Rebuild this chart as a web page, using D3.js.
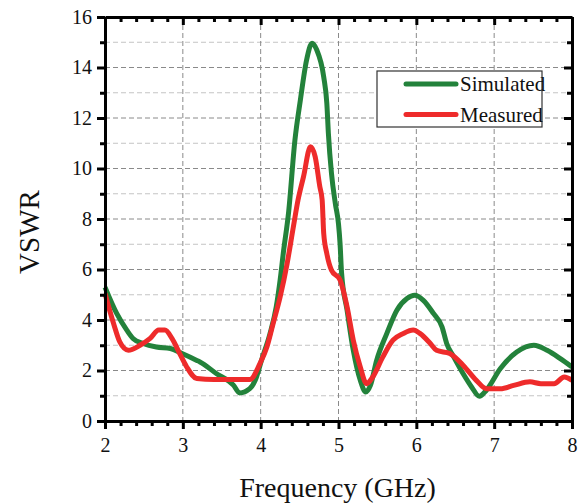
<!DOCTYPE html>
<html>
<head>
<meta charset="utf-8">
<script src="https://cdn.jsdelivr.net/npm/d3@7"></script>
<style>
  body { margin: 0; background: #fff; }
  text { font-family: "Liberation Serif", "Times New Roman", serif; fill: #111; }
</style>
</head>
<body>
<div id="chart"></div>
<script>
let width = 584;
let height = 503;
let margin = ({ top: 17, right: 12, bottom: 82, left: 105 });

// Simulated VSWR (frequency GHz, value)
let simFreq = [2.0, 2.15, 2.28, 2.36, 2.49, 2.66, 2.84, 2.99, 3.18, 3.22, 3.43, 3.65, 3.73, 3.86, 3.93, 4.01, 4.12, 4.2, 4.25, 4.29, 4.36, 4.44, 4.51, 4.59, 4.66, 4.72, 4.81, 4.85, 4.87, 4.91, 4.96, 5.0, 5.02, 5.04, 5.11, 5.19, 5.28, 5.35, 5.41, 5.49, 5.62, 5.75, 5.88, 5.98, 6.09, 6.22, 6.33, 6.39, 6.48, 6.6, 6.71, 6.81, 6.9, 7.08, 7.29, 7.51, 7.68, 7.85, 8.0];
let simVswr = [5.3, 4.26, 3.6, 3.27, 3.07, 2.93, 2.87, 2.67, 2.4, 2.34, 1.88, 1.42, 1.11, 1.28, 1.61, 2.4, 3.46, 4.52, 5.58, 6.63, 8.3, 11.12, 12.71, 14.3, 14.96, 14.7, 13.63, 12.58, 11.39, 9.8, 8.6, 7.8, 7.03, 5.84, 4.39, 2.8, 1.61, 1.15, 1.41, 2.4, 3.46, 4.39, 4.85, 4.98, 4.78, 4.26, 3.73, 3.07, 2.54, 1.88, 1.35, 0.98, 1.22, 2.08, 2.73, 3.0, 2.8, 2.47, 2.14];

// Measured VSWR
let measFreq = [2.0, 2.11, 2.19, 2.3, 2.45, 2.58, 2.69, 2.77, 2.86, 2.96, 3.05, 3.18, 3.4, 3.6, 3.86, 3.99, 4.08, 4.16, 4.25, 4.34, 4.42, 4.48, 4.55, 4.64, 4.7, 4.76, 4.79, 4.81, 4.85, 4.91, 5.02, 5.11, 5.19, 5.28, 5.36, 5.44, 5.57, 5.7, 5.83, 5.96, 6.05, 6.18, 6.26, 6.43, 6.6, 6.77, 6.9, 7.08, 7.25, 7.46, 7.6, 7.77, 7.9, 8.0];
let measVswr = [5.05, 3.86, 3.13, 2.8, 3.0, 3.27, 3.6, 3.6, 3.27, 2.67, 2.14, 1.68, 1.64, 1.64, 1.64, 2.27, 2.93, 3.86, 4.91, 6.24, 7.69, 8.75, 9.67, 10.86, 10.47, 9.28, 8.75, 7.43, 6.63, 5.97, 5.58, 4.52, 3.2, 2.14, 1.48, 1.74, 2.54, 3.2, 3.46, 3.6, 3.46, 3.07, 2.8, 2.67, 2.21, 1.61, 1.28, 1.28, 1.41, 1.55, 1.48, 1.48, 1.74, 1.61];

let xMajor = [2, 3, 4, 5, 6, 7, 8];
let yMajor = [0, 2, 4, 6, 8, 10, 12, 14, 16];
let yMinor = [1, 3, 5, 7, 9, 11, 13, 15];
let seriesNames = ["Simulated", "Measured"];
let seriesColors = ["#23823b", "#ee2b2b"];

let xMinor = d3.range(2, 8.001, 0.2).filter(v => Math.abs(v - Math.round(v)) > 0.01);

let x = d3.scaleLinear().domain([2, 8]).range([margin.left, width - margin.right]);
let y = d3.scaleLinear().domain([0, 16]).range([height - margin.bottom, margin.top]);

const svg = d3.select("#chart").append("svg")
    .attr("width", width)
    .attr("height", height);

// grid
svg.append("g")
    .selectAll("line")
    .data(yMinor)
    .join("line")
    .attr("x1", margin.left).attr("x2", width - margin.right)
    .attr("y1", d => y(d)).attr("y2", d => y(d))
    .attr("stroke", "#c4c4c4").attr("stroke-width", 1)
    .attr("stroke-dasharray", "5,3");
svg.append("g")
    .selectAll("line")
    .data(yMajor.slice(1, -1))
    .join("line")
    .attr("x1", margin.left).attr("x2", width - margin.right)
    .attr("y1", d => y(d)).attr("y2", d => y(d))
    .attr("stroke", "#8a8a8a").attr("stroke-width", 1)
    .attr("stroke-dasharray", "5,3");
svg.append("g")
    .selectAll("line")
    .data(xMajor.slice(1, -1))
    .join("line")
    .attr("x1", d => x(d)).attr("x2", d => x(d))
    .attr("y1", margin.top).attr("y2", height - margin.bottom)
    .attr("stroke", "#8a8a8a").attr("stroke-width", 1)
    .attr("stroke-dasharray", "5,3");

// curves
let line = d3.line().x(d => x(d[0])).y(d => y(d[1])).curve(d3.curveMonotoneX);
let simData = d3.zip(simFreq, simVswr);
let measData = d3.zip(measFreq, measVswr);

svg.append("path")
    .datum(simData)
    .attr("d", line)
    .attr("fill", "none")
    .attr("stroke", seriesColors[0])
    .attr("stroke-width", 5)
    .attr("stroke-linejoin", "round");
svg.append("path")
    .datum(measData)
    .attr("d", line)
    .attr("fill", "none")
    .attr("stroke", seriesColors[1])
    .attr("stroke-width", 5)
    .attr("stroke-linejoin", "round");

// axes
function styleAxis(g) {
    g.select(".domain").attr("stroke", "#000").attr("stroke-width", 3);
    g.selectAll(".tick line").attr("stroke", "#000").attr("stroke-width", 3);
    g.selectAll(".tick text")
        .style("font-family", "'Liberation Serif', serif")
        .style("font-size", "20px")
        .attr("fill", "#111");
}

let bottom = height - margin.bottom;
let right = width - margin.right;

// minor ticks
svg.append("g").attr("transform", `translate(0,${bottom})`)
    .call(d3.axisBottom(x).tickValues(xMinor).tickSize(5).tickFormat("").tickSizeOuter(0))
    .call(g => g.select(".domain").remove())
    .call(styleAxis);
svg.append("g").attr("transform", `translate(0,${margin.top})`)
    .call(d3.axisBottom(x).tickValues(xMinor).tickSize(5).tickFormat("").tickSizeOuter(0))
    .call(g => g.select(".domain").remove())
    .call(styleAxis);
svg.append("g").attr("transform", `translate(${margin.left},0)`)
    .call(d3.axisLeft(y).tickValues(yMinor).tickSize(5).tickFormat("").tickSizeOuter(0))
    .call(g => g.select(".domain").remove())
    .call(styleAxis);
svg.append("g").attr("transform", `translate(${right},0)`)
    .call(d3.axisLeft(y).tickValues(yMinor).tickSize(5).tickFormat("").tickSizeOuter(0))
    .call(g => g.select(".domain").remove())
    .call(styleAxis);

// major ticks
svg.append("g").attr("transform", `translate(0,${bottom})`)
    .call(d3.axisBottom(x).tickValues(xMajor).tickSize(8).tickPadding(9).tickFormat(d3.format("d")).tickSizeOuter(0))
    .call(styleAxis);
svg.append("g").attr("transform", `translate(0,${margin.top})`)
    .call(d3.axisBottom(x).tickValues(xMajor).tickSize(8).tickFormat("").tickSizeOuter(0))
    .call(styleAxis);
svg.append("g").attr("transform", `translate(${margin.left},0)`)
    .call(d3.axisLeft(y).tickValues(yMajor).tickSize(8).tickPadding(5).tickFormat(d3.format("d")).tickSizeOuter(0))
    .call(styleAxis);
svg.append("g").attr("transform", `translate(${right},0)`)
    .call(d3.axisLeft(y).tickValues(yMajor).tickSize(8).tickFormat("").tickSizeOuter(0))
    .call(styleAxis);

// axis titles
svg.append("text")
    .attr("x", (margin.left + right) / 2 - 1)
    .attr("y", 497)
    .attr("text-anchor", "middle")
    .style("font-size", "28px")
    .text("Frequency (GHz)");
svg.append("text")
    .attr("transform", `translate(39,232) rotate(-90)`)
    .attr("text-anchor", "middle")
    .style("font-size", "29px")
    .text("VSWR");

// legend
let legend = svg.append("g");
legend.append("rect")
    .attr("x", 377).attr("y", 71)
    .attr("width", 165).attr("height", 56)
    .attr("fill", "#fff")
    .attr("stroke", "#333").attr("stroke-width", 1.2);
legend.selectAll("g.item")
    .data(seriesNames)
    .join("g")
    .attr("class", "item")
    .attr("transform", (d, i) => `translate(0,${84 + i * 30.5})`)
    .each(function (d, i) {
        let g = d3.select(this);
        g.append("line")
            .attr("x1", 406).attr("x2", 456)
            .attr("stroke", seriesColors[i])
            .attr("stroke-width", 5)
            .attr("stroke-linecap", "round");
        g.append("text")
            .attr("x", 460).attr("y", 7)
            .style("font-size", "21px")
            .text(d);
    });
</script>
</body>
</html>
